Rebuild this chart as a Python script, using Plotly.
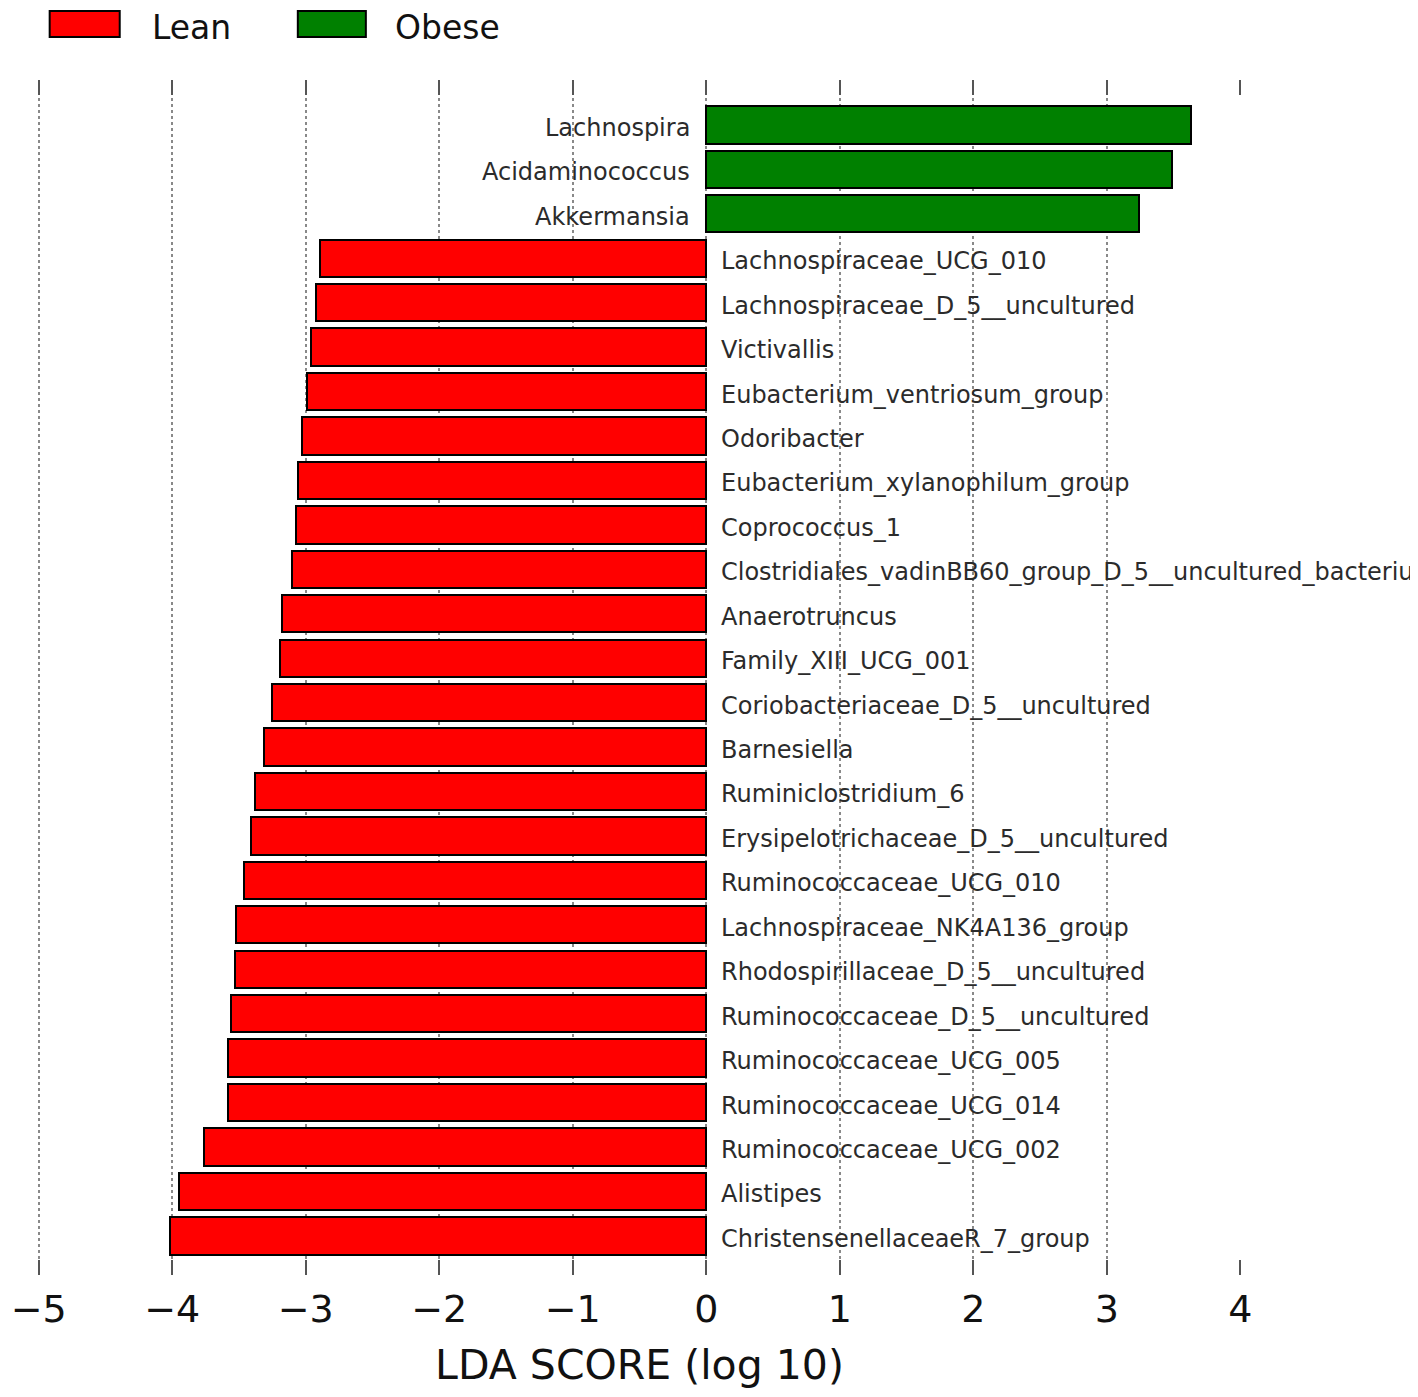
import plotly.graph_objects as go

# ---- data (top to bottom as in the chart) ----
taxa = [
    "Lachnospira", "Acidaminococcus", "Akkermansia",
    "Lachnospiraceae_UCG_010", "Lachnospiraceae_D_5__uncultured", "Victivallis",
    "Eubacterium_ventriosum_group", "Odoribacter", "Eubacterium_xylanophilum_group",
    "Coprococcus_1", "Clostridiales_vadinBB60_group_D_5__uncultured_bacteriu",
    "Anaerotruncus", "Family_XIII_UCG_001", "Coriobacteriaceae_D_5__uncultured",
    "Barnesiella", "Ruminiclostridium_6", "Erysipelotrichaceae_D_5__uncultured",
    "Ruminococcaceae_UCG_010", "Lachnospiraceae_NK4A136_group",
    "Rhodospirillaceae_D_5__uncultured", "Ruminococcaceae_D_5__uncultured",
    "Ruminococcaceae_UCG_005", "Ruminococcaceae_UCG_014", "Ruminococcaceae_UCG_002",
    "Alistipes", "ChristensenellaceaeR_7_group",
]
lda = [
    3.63, 3.49, 3.24,
    -2.89, -2.92, -2.96,
    -2.99, -3.03, -3.06,
    -3.07, -3.10,
    -3.18, -3.19, -3.25,
    -3.31, -3.38, -3.41,
    -3.46, -3.52,
    -3.53, -3.56,
    -3.58, -3.58, -3.76,
    -3.95, -4.02,
]
groups = ["Obese"] * 3 + ["Lean"] * 23
group_colors = {"Lean": "#ff0000", "Obese": "#008000"}
legend_order = ["Lean", "Obese"]
x_ticks = [-5, -4, -3, -2, -1, 0, 1, 2, 3, 4]
grid_vals = [-5, -4, -3, -2, -1, 0, 1, 2, 3]   # right-edge grid line is clipped in the original
x_min, x_max = -5, 4

# ---- geometry (page has an 8px body margin) ----
OFF = 8
W, H = 1418 - OFF, 1397 - OFF
UNIT = 1201 / (x_max - x_min)          # pixels per LDA unit
PADU = 0.02                            # small padding so edge ticks/grid get drawn
ML = 39 - OFF - PADU * UNIT
PW = 1201 + 2 * PADU * UNIT
MT, PH = 80 - OFF, 1195
MR, MB = W - ML - PW, H - MT - PH

n = len(taxa)
pos = [n - 1 - i for i in range(n)]

fig = go.Figure()
for g in legend_order:
    idx = [i for i in range(n) if groups[i] == g]
    fig.add_trace(go.Bar(
        x=[lda[i] for i in idx],
        y=[pos[i] for i in idx],
        orientation="h",
        width=0.84,
        marker=dict(color=group_colors[g], line=dict(color="#000000", width=2)),
        name=g,
        showlegend=False,
        hoverinfo="skip",
    ))
# empty trace so the grid-only overlay axis exists
fig.add_trace(go.Scatter(x=[], y=[], xaxis="x2", yaxis="y", showlegend=False,
                         hoverinfo="skip", mode="markers"))

annotations = []
for i in range(n):
    neg = lda[i] < 0
    annotations.append(dict(
        x=0, y=pos[i], xref="x", yref="y",
        text=taxa[i], showarrow=False,
        xanchor="left" if neg else "right",
        yanchor="middle",
        xshift=13 if neg else -14,
        yshift=-3,
        font=dict(family="DejaVu Sans", size=24, color="#2b2b2b"),
    ))

# manual legend (large swatches like the reference), positions in reference pixels
def px_to_paper_x(px):
    return (px - OFF - ML) / PW

def px_to_paper_y(py):
    return (MT + PH - (py - OFF)) / PH

shapes = []
legend_boxes = {"Lean": (50, 120, 150), "Obese": (298, 366, 393)}
for g in legend_order:
    x0, x1, tx = legend_boxes[g]
    shapes.append(dict(
        type="rect", xref="paper", yref="paper",
        x0=px_to_paper_x(x0), x1=px_to_paper_x(x1),
        y0=px_to_paper_y(37), y1=px_to_paper_y(11),
        fillcolor=group_colors[g], line=dict(color="#000000", width=2),
    ))
    annotations.append(dict(
        x=px_to_paper_x(tx), y=px_to_paper_y(27), xref="paper", yref="paper",
        text=g, showarrow=False, xanchor="left", yanchor="middle",
        font=dict(family="DejaVu Sans", size=33, color="#111111"),
    ))

fig.update_layout(
    width=W, height=H,
    margin=dict(l=ML, r=MR, t=MT, b=MB, pad=0, autoexpand=False),
    paper_bgcolor="white", plot_bgcolor="white",
    showlegend=False,
    bargap=0,
    annotations=annotations,
    shapes=shapes,
    xaxis=dict(
        range=[x_min - PADU, x_max + PADU],
        tickvals=x_ticks,
        ticks="inside", ticklen=15, tickwidth=2, tickcolor="#555555",
        mirror="ticks", showline=False,
        showgrid=False,
        zeroline=False,
        layer="above traces",
        automargin=False,
        tickfont=dict(family="DejaVu Sans", size=38, color="#111111"),
        ticklabelstandoff=8,
        title=dict(text="LDA SCORE (log 10)",
                   font=dict(family="DejaVu Sans", size=41, color="#111111"),
                   standoff=20),
    ),
    xaxis2=dict(
        overlaying="x", matches="x", side="bottom",
        range=[x_min - PADU, x_max + PADU],
        tickvals=grid_vals,
        showgrid=True, gridcolor="rgba(40,40,40,0.55)", griddash="dot", gridwidth=2,
        showticklabels=False, ticks="", showline=False, zeroline=False,
        layer="above traces", automargin=False,
    ),
    yaxis=dict(
        range=[-0.88, n + 0.01],
        showgrid=False, zeroline=False, showticklabels=False, ticks="",
        showline=False, automargin=False,
    ),
)

fig.write_html("out.html")
